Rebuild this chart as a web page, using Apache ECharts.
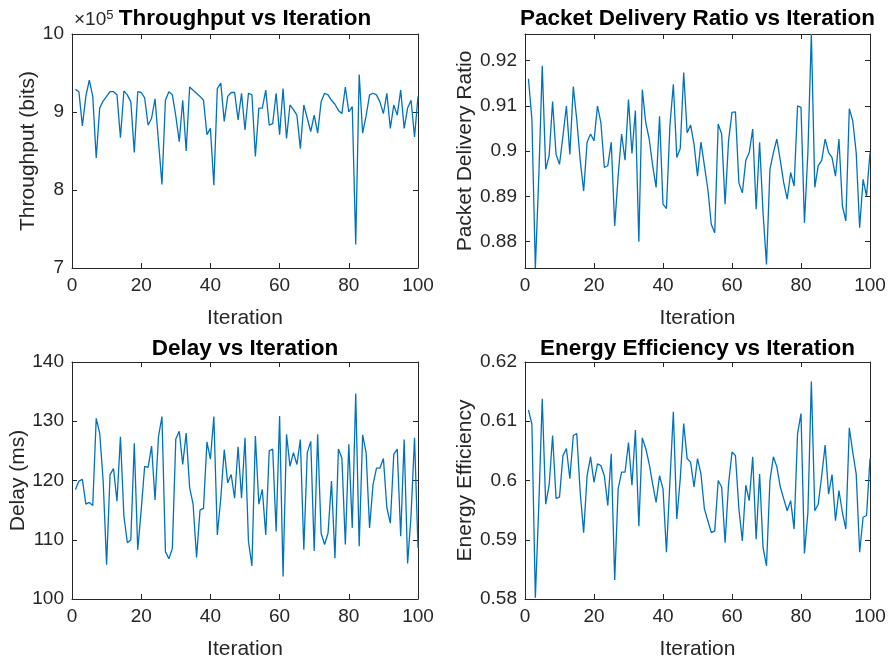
<!DOCTYPE html>
<html><head><meta charset="utf-8">
<script src="https://cdn.jsdelivr.net/npm/echarts@6/dist/echarts.min.js"></script>
<style>html,body{margin:0;padding:0;background:#fff}#c{width:892px;height:662px}</style>
</head><body><div id="c"></div>
<script>
const iterations = Array.from({length: 100}, (_, i) => i + 1);

const throughput = [
 929000,926000,882000,920000,941000,920000,841000,905000,914000,920000,
 926000,926000,922000,867000,927000,922000,913000,848000,926000,925000,
 918000,883000,892000,917000,862000,807000,915000,926000,922000,895000,
 862000,915000,850000,932000,928000,924000,920000,915000,871000,879000,
 806000,930000,937000,888000,920000,925000,925000,890000,924000,877000,
 924000,922000,843000,905000,905000,928000,883000,885000,924000,871000,
 930000,866000,909000,903000,896000,853000,909000,892000,875000,896000,
 873000,913000,924000,922000,915000,910000,902000,898000,932000,900000,
 907000,730000,948000,873000,895000,922000,924000,922000,913000,898000,
 924000,879000,909000,896000,928000,879000,905000,915000,868000,920000];

const pdr = [
 0.9160,0.9071,0.8742,0.8945,0.9189,0.8960,0.8990,0.9110,0.8993,0.8971,
 0.9034,0.9100,0.8993,0.9143,0.9070,0.8980,0.8912,0.9020,0.9038,0.9023,
 0.9100,0.9063,0.8964,0.8968,0.9020,0.8835,0.8945,0.9038,0.8980,0.9114,
 0.8995,0.9090,0.8800,0.9136,0.9063,0.9027,0.8968,0.8920,0.9077,0.8883,
 0.8873,0.9056,0.9148,0.8986,0.9006,0.9174,0.9041,0.9058,0.9015,0.8945,
 0.9020,0.8968,0.8916,0.8838,0.8820,0.9060,0.9038,0.8883,0.9023,0.9086,
 0.9087,0.8930,0.8908,0.8980,0.8997,0.9049,0.8872,0.9020,0.8864,0.8750,
 0.8960,0.8997,0.9027,0.8980,0.8930,0.8894,0.8953,0.8923,0.9100,0.9097,
 0.8842,0.8997,0.9259,0.8920,0.8968,0.8980,0.9027,0.8997,0.8986,0.8945,
 0.9027,0.8879,0.8846,0.9094,0.9067,0.8997,0.8831,0.8938,0.8901,0.8997];

const delay = [
 118.5,119.9,120.2,116.0,116.3,115.8,130.5,128.0,120.0,105.8,
 121.0,122.0,116.5,127.4,114.0,109.5,110.0,126.3,108.3,115.0,
 122.4,122.2,125.8,116.7,127.4,130.8,108.0,106.8,108.5,127.0,
 128.3,122.7,128.0,118.8,116.0,107.0,115.0,115.3,126.5,123.6,
 130.8,110.8,117.0,125.2,119.6,121.0,117.0,125.7,117.0,127.2,
 109.7,105.6,127.5,116.0,118.5,110.8,125.0,125.3,111.4,130.9,
 103.8,127.8,122.4,124.7,122.7,126.9,108.3,124.7,126.6,108.1,
 127.8,111.1,109.2,111.1,119.9,106.9,125.3,123.8,109.2,126.1,
 112.0,134.7,108.9,127.7,124.7,112.0,119.3,122.1,122.1,123.7,
 115.4,112.8,124.4,125.3,110.6,126.9,106.0,114.2,127.2,108.6];

const energy = [
 0.6119,0.6095,0.5802,0.5958,0.6138,0.5960,0.5992,0.6076,0.5970,0.5972,
 0.6042,0.6054,0.6003,0.6076,0.6079,0.5980,0.5912,0.6008,0.6040,0.5997,
 0.6028,0.6025,0.6008,0.5958,0.6045,0.5832,0.5986,0.6014,0.6014,0.6064,
 0.5992,0.6085,0.5923,0.6072,0.6054,0.6028,0.5994,0.5963,0.6008,0.5986,
 0.5879,0.5997,0.6116,0.5935,0.6003,0.6096,0.6037,0.6031,0.5989,0.6037,
 0.6011,0.5952,0.5932,0.5912,0.5915,0.6000,0.5989,0.5895,0.5994,0.6048,
 0.6042,0.5952,0.5898,0.5992,0.5966,0.6040,0.5901,0.6011,0.5887,0.5856,
 0.6000,0.6040,0.6023,0.5989,0.5969,0.5949,0.5966,0.5918,0.6079,0.6113,
 0.5877,0.5946,0.6167,0.5949,0.5960,0.6008,0.6060,0.5977,0.6010,0.5932,
 0.5983,0.5946,0.5918,0.6089,0.6048,0.6011,0.5879,0.5938,0.5941,0.6037];

const titles = ['Throughput vs Iteration', 'Packet Delivery Ratio vs Iteration',
                'Delay vs Iteration', 'Energy Efficiency vs Iteration'];
const yNames = ['Throughput (bits)', 'Packet Delivery Ratio', 'Delay (ms)', 'Energy Efficiency'];
const xName = 'Iteration';
const exponentLabel = '×10{sup|5}';

const FONT = '"Liberation Sans", Arial, Helvetica, sans-serif';
const AX = '#262626';
const LINE = '#0072BD';

const grids = [
  {left: 72,  top: 34,  width: 346, height: 234},
  {left: 525, top: 34,  width: 345, height: 234},
  {left: 72,  top: 362, width: 346, height: 237},
  {left: 525, top: 362, width: 345, height: 237}
];
const titleTops = [7, 337];

const roundFmt = v => { const r = Math.round(v * 100); return Math.abs(v * 100 - r) < 1e-6 ? String(+(r / 100).toFixed(2)) : ''; };
const yCfg = [
  {min: 700000, max: 1000000, interval: 100000, fmt: v => String(Math.round(v / 1e5)), gap: 33},
  {min: Math.min(...pdr), max: Math.max(...pdr), fmt: roundFmt, gap: 48},
  {min: 100, max: 140, interval: 10, fmt: v => String(v), gap: 33},
  {min: 0.58, max: 0.62, interval: 0.01, fmt: roundFmt, gap: 48}
];
const seriesData = [throughput, pdr, delay, energy];

const xAxes = [], yAxes = [], series = [], titleOpts = [];
grids.forEach((g, i) => {
  const tick = {show: true, inside: true, length: 5, lineStyle: {color: AX, width: 1}};
  const line = {show: true, onZero: false, lineStyle: {color: AX, width: 1}};
  xAxes.push({type: 'value', gridIndex: i, position: 'bottom', min: 0, max: 100, interval: 20,
    axisLine: line, axisTick: tick, splitLine: {show: false},
    axisLabel: {color: AX, fontSize: 19, fontFamily: FONT, margin: 8},
    name: xName, nameLocation: 'middle', nameGap: 40,
    nameTextStyle: {color: AX, fontSize: 21, fontFamily: FONT}});
  xAxes.push({type: 'value', gridIndex: i, position: 'top', min: 0, max: 100, interval: 20,
    axisLine: line, axisTick: tick, splitLine: {show: false}, axisLabel: {show: false}});
  const c = yCfg[i];
  const base = {type: 'value', gridIndex: i, min: c.min, max: c.max, scale: true};
  if (c.interval) base.interval = c.interval;
  yAxes.push(Object.assign({}, base, {position: 'left',
    axisLine: line, axisTick: tick, splitLine: {show: false},
    axisLabel: {color: AX, fontSize: 19, fontFamily: FONT, margin: 8, formatter: c.fmt},
    name: yNames[i], nameLocation: 'middle', nameGap: c.gap,
    nameTextStyle: {color: AX, fontSize: 21, fontFamily: FONT}}));
  yAxes.push(Object.assign({}, base, {position: 'right',
    axisLine: line, axisTick: tick, splitLine: {show: false}, axisLabel: {show: false}}));
  series.push({type: 'line', xAxisIndex: 2 * i, yAxisIndex: 2 * i, showSymbol: false,
    symbol: 'none', animation: false, clip: false,
    lineStyle: {color: LINE, width: 1.3},
    data: iterations.map((it, k) => [it, seriesData[i][k]])});
  titleOpts.push({text: titles[i], left: g.left + g.width / 2, textAlign: 'center',
    top: titleTops[i < 2 ? 0 : 1], padding: 0,
    textStyle: {fontSize: 22.5, fontWeight: 'bold', color: '#000', fontFamily: FONT}});
});

const chart = echarts.init(document.getElementById('c'), null, {renderer: 'canvas'});
chart.setOption({
  animation: false,
  backgroundColor: '#fff',
  title: titleOpts,
  grid: grids,
  xAxis: xAxes,
  yAxis: yAxes,
  series: series,
  graphic: [{type: 'text', left: 74, top: 9,
    style: {text: exponentLabel, fill: AX, font: '19px ' + FONT,
      rich: {sup: {fontSize: 13, fontFamily: FONT, fill: AX, verticalAlign: 'top', padding: [0, 0, 8, 0]}}}}]
});
</script></body></html>
